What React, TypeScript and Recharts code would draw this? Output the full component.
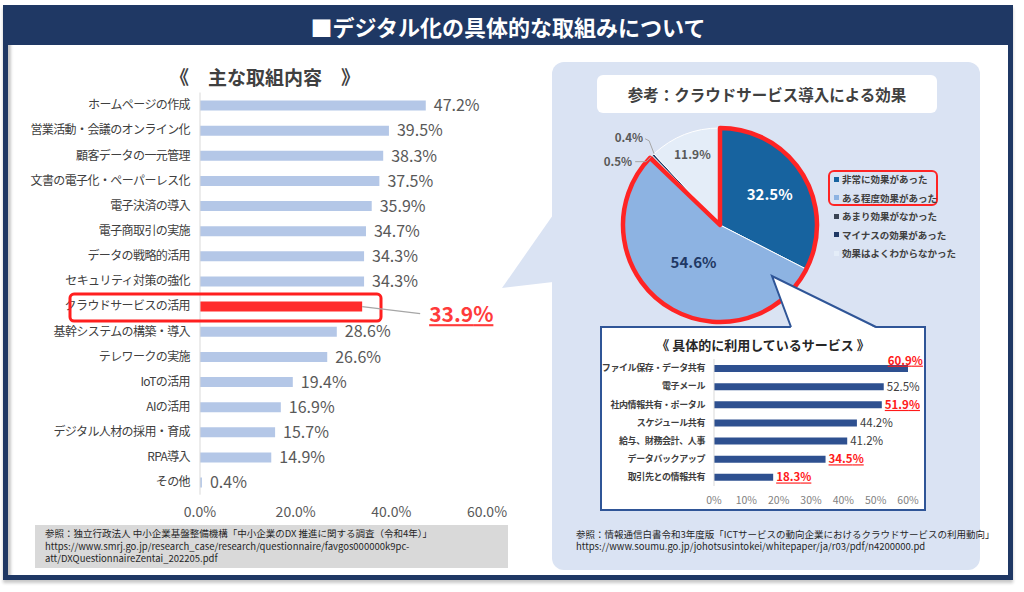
import React from "react";
import { BarChart, Bar, XAxis, YAxis, Cell, LabelList, PieChart, Pie } from "recharts";

const JP = '"Noto Sans CJK JP", "Noto Sans", sans-serif';
const NAVY = "#1f3864";

// 主な取組内容
const categories = [
  "ホームページの作成",
  "営業活動・会議のオンライン化",
  "顧客データの一元管理",
  "文書の電子化・ペーパーレス化",
  "電子決済の導入",
  "電子商取引の実施",
  "データの戦略的活用",
  "セキュリティ対策の強化",
  "クラウドサービスの活用",
  "基幹システムの構築・導入",
  "テレワークの実施",
  "IoTの活用",
  "AIの活用",
  "デジタル人材の採用・育成",
  "RPA導入",
  "その他",
];
const rates = [47.2, 39.5, 38.3, 37.5, 35.9, 34.7, 34.3, 34.3, 33.9, 28.6, 26.6, 19.4, 16.9, 15.7, 14.9, 0.4];
const highlightCategory = "クラウドサービスの活用";
const rateTicks = [0, 20, 40, 60];

// クラウドサービス導入による効果
const effectLabels = [
  "非常に効果があった",
  "ある程度効果があった",
  "あまり効果がなかった",
  "マイナスの効果があった",
  "効果はよくわからなかった",
];
const effectValues = [32.5, 54.6, 0.5, 0.4, 11.9];
const effectColors = ["#17639f", "#8db3e2", "#3a4454", "#1f3864", "#e4edf8"];
const effectHighlight = [true, true, false, false, false];

// 具体的に利用しているサービス
const services = [
  "ファイル保存・データ共有",
  "電子メール",
  "社内情報共有・ポータル",
  "スケジュール共有",
  "給与、財務会計、人事",
  "データバックアップ",
  "取引先との情報共有",
];
const serviceRates = [60.9, 52.5, 51.9, 44.2, 41.2, 34.5, 18.3];
const serviceHighlight = [true, false, true, false, false, true, true];
const serviceTicks = [0, 10, 20, 30, 40, 50, 60];

const mainData = categories.map((name, i) => ({ name, value: rates[i] }));
const effectData = effectLabels.map((name, i) => ({ name, value: effectValues[i] }));
const highlightSum = effectValues.reduce((s, v, i) => (effectHighlight[i] ? s + v : s), 0);
const otherSum = effectValues.reduce((s, v, i) => (effectHighlight[i] ? s : s + v), 0);
const outlineData = [
  { name: "highlight", value: highlightSum },
  { name: "rest", value: otherSum },
];
const serviceData = services.map((name, i) => ({ name, value: serviceRates[i] }));

const RAD = Math.PI / 180;

const MainValueLabel = (props: any) => {
  const { x, y, width, height, index, value } = props;
  const cy = y + height / 2;
  const x0 = x + width;
  if (categories[index] === highlightCategory) {
    return (
      <g>
        <rect x={70} y={cy - 12.5} width={311} height={27} rx={4} fill="none" stroke="#ff1f1f" strokeWidth={3} />
        <line x1={x0} y1={cy} x2={x0 + 58} y2={cy + 7} stroke="#a6a6a6" strokeWidth={1.2} />
        <text
          x={x0 + 67}
          y={cy + 8}
          dy="0.36em"
          fill="#ff3b3b"
          fontSize={21}
          fontWeight={700}
          fontFamily={JP}
          textDecoration="underline"
        >
          {value.toFixed(1)}%
        </text>
      </g>
    );
  }
  return (
    <text x={x0 + 8} y={cy} dy="0.36em" fill="#595959" fontSize={16} fontFamily={JP}>
      {value.toFixed(1)}%
    </text>
  );
};

const ServiceValueLabel = (props: any) => {
  const { x, y, width, height, index, value } = props;
  const cy = y + height / 2;
  const hl = serviceHighlight[index];
  const over = value > serviceTicks[serviceTicks.length - 1];
  return (
    <text
      x={over ? x + width + 12 : x + width + 3}
      y={over ? cy - 8 : cy}
      dy="0.36em"
      textAnchor={over ? "end" : "start"}
      fill={hl ? "#ff1a1a" : "#404040"}
      fontWeight={hl ? 700 : 400}
      textDecoration={hl ? "underline" : undefined}
      fontSize={11.5}
      fontFamily={JP}
    >
      {value.toFixed(1)}%
    </text>
  );
};

const pieLabelRadius = [0.6, 0.47, 1, 1, 0.78];
const pieLabelStyle = [
  { fill: "#ffffff", size: 15 },
  { fill: "#1f3864", size: 15 },
  { fill: "#595959", size: 11.5 },
  { fill: "#595959", size: 11.5 },
  { fill: "#595959", size: 12 },
];

const renderPieLabel = (props: any) => {
  const { cx, cy, midAngle, outerRadius, index, value } = props;
  const cos = Math.cos(-midAngle * RAD);
  const sin = Math.sin(-midAngle * RAD);
  const st = pieLabelStyle[index];
  if (index === 2 || index === 3) {
    const ex = cx + outerRadius * cos;
    const ey = cy + outerRadius * sin;
    const pts =
      index === 2
        ? `${ex},${ey} ${ex - 5},${ey + 5} ${ex - 16},${ey + 5}`
        : `${ex + 1},${ey - 1} ${ex - 4},${ey - 14} ${ex - 8},${ey - 16}`;
    const tx = index === 2 ? ex - 19 : ex - 10;
    const ty = index === 2 ? ey + 5 : ey - 17;
    return (
      <g>
        <polyline points={pts} fill="none" stroke="#a6a6a6" strokeWidth={1} />
        <text x={tx} y={ty} dy="0.36em" textAnchor="end" fill={st.fill} fontSize={st.size} fontWeight={700} fontFamily={JP}>
          {value.toFixed(1)}%
        </text>
      </g>
    );
  }
  const r = outerRadius * pieLabelRadius[index];
  return (
    <text
      x={cx + r * cos}
      y={cy + r * sin}
      dy="0.36em"
      textAnchor="middle"
      fill={st.fill}
      fontSize={st.size}
      fontWeight={700}
      fontFamily={JP}
    >
      {value.toFixed(1)}%
    </text>
  );
};

const abs = (l: number, t: number, extra: React.CSSProperties = {}): React.CSSProperties => ({
  position: "absolute",
  left: l,
  top: t,
  ...extra,
});

export default function App() {
  return (
    <div style={{ position: "absolute", left: 0, top: 0, width: 1024, height: 592, background: "#fff", fontFamily: JP, overflow: "hidden" }}>
      {/* frame */}
      <div
        style={abs(3, 5, {
          width: 1010,
          height: 575,
          boxSizing: "border-box",
          border: `5px solid ${NAVY}`,
          borderTop: "none",
          boxShadow: "inset 3px 3px 3px #c8c8c8, 0 3px 3px #c8c8c8",
          background: "#fff",
        })}
      />
      <div
        style={abs(3, 5, {
          width: 1010,
          height: 40,
          background: NAVY,
          color: "#fff",
          fontSize: 22,
          fontWeight: 700,
          lineHeight: "42px",
          textAlign: "center",
        })}
      >
        ■デジタル化の具体的な取組みについて
      </div>

      {/* left chart */}
      <div style={abs(20, 62, { width: 490, textAlign: "center", fontSize: 19, fontWeight: 700, color: "#404040", lineHeight: "30px" })}>
        《　主な取組内容　》
      </div>
      <div style={abs(0, 0)}>
        <BarChart
          width={540}
          height={530}
          layout="vertical"
          data={mainData}
          margin={{ top: 92.5, right: 53, bottom: 5.3, left: 0 }}
        >
          <XAxis
            type="number"
            domain={[0, 60]}
            ticks={rateTicks}
            tickFormatter={(v: number) => `${v.toFixed(1)}%`}
            axisLine={false}
            tickLine={false}
            tickMargin={6}
            height={30}
            tick={{ fontSize: 14, fill: "#595959", fontFamily: JP }}
          />
          <YAxis
            type="category"
            dataKey="name"
            width={200}
            interval={0}
            tickLine={false}
            tickMargin={4}
            axisLine={{ stroke: "#d9d9d9" }}
            tick={{ fontSize: 12, fill: "#404040", fontFamily: JP, letterSpacing: -0.6 }}
          />
          <Bar dataKey="value" barSize={10} isAnimationActive={false}>
            {mainData.map((d) => (
              <Cell key={d.name} fill={d.name === highlightCategory ? "#ff2b2b" : "#b4c7e7"} />
            ))}
            <LabelList dataKey="value" content={MainValueLabel} />
          </Bar>
        </BarChart>
      </div>
      <div
        style={abs(35, 525, {
          width: 473,
          height: 43,
          background: "#d9d9d9",
          boxSizing: "border-box",
          padding: "2px 0 0 10px",
          fontSize: 9.5,
          lineHeight: "12.5px",
          color: "#262626",
          whiteSpace: "nowrap",
        })}
      >
        参照：独立行政法人 中小企業基盤整備機構「中小企業のDX 推進に関する調査（令和4年）」
        <br />
        https://www.smrj.go.jp/research_case/research/questionnaire/favgos000000k9pc-
        <br />
        att/DXQuestionnaireZentai_202205.pdf
      </div>

      {/* right panel */}
      <div style={abs(552, 62, { width: 428, height: 508, background: "#dae3f3", borderRadius: 12 })} />
      <svg width={1024} height={592} style={abs(0, 0)}>
        <polygon points="553,215 502,288 553,282" fill="#dae3f3" />
      </svg>
      <div
        style={abs(597, 75, {
          width: 340,
          height: 38,
          background: "#fff",
          borderRadius: 6,
          textAlign: "center",
          lineHeight: "38px",
          fontSize: 15.5,
          fontWeight: 700,
          color: "#404040",
        })}
      >
        参考：クラウドサービス導入による効果
      </div>
      <div style={abs(552, 62)}>
        <PieChart width={428} height={300}>
          <Pie
            data={effectData}
            dataKey="value"
            cx={163}
            cy={158}
            outerRadius={97}
            startAngle={90}
            endAngle={-270}
            stroke="#ffffff"
            strokeWidth={1}
            label={renderPieLabel}
            labelLine={false}
            isAnimationActive={false}
          >
            {effectData.map((d, i) => (
              <Cell key={d.name} fill={effectColors[i]} />
            ))}
          </Pie>
          <Pie
            data={outlineData}
            dataKey="value"
            cx={163}
            cy={158}
            outerRadius={97}
            startAngle={90}
            endAngle={-270}
            isAnimationActive={false}
          >
            <Cell fill="none" stroke="#ff2424" strokeWidth={4.5} strokeLinejoin="round" />
            <Cell fill="none" stroke="none" />
          </Pie>
        </PieChart>
      </div>
      {/* legend */}
      <div style={abs(828, 170, { width: 110, height: 36, border: "2px solid #ff2424", borderRadius: 6, boxSizing: "border-box" })} />
      <div style={abs(834, 170)}>
        {effectLabels.map((name, i) => (
          <div key={name} style={{ height: 18.5, display: "flex", alignItems: "center", fontSize: 9.5, fontWeight: 700, color: "#404040", whiteSpace: "nowrap" }}>
            <span style={{ display: "inline-block", width: 5, height: 5, background: effectColors[i], marginRight: 3 }} />
            {name}
          </div>
        ))}
      </div>

      {/* callout */}
      <div style={abs(600, 326, { width: 326, height: 185, background: "#fff", border: "2px solid #2f5597", boxSizing: "border-box" })} />
      <svg width={1024} height={592} style={abs(0, 0)}>
        <polygon points="772,276 791,328 876,328" fill="#fff" />
        <polyline points="791,327 772,276 876,327" fill="none" stroke="#2f5597" strokeWidth={2} />
      </svg>
      <div style={abs(600, 335, { width: 326, textAlign: "center", fontSize: 13, fontWeight: 700, color: "#262626", lineHeight: "20px" })}>
        《 具体的に利用しているサービス 》
      </div>
      <div style={abs(600, 350)}>
        <BarChart
          width={330}
          height={165}
          layout="vertical"
          data={serviceData}
          margin={{ top: 9, right: 22, bottom: 9, left: 0 }}
        >
          <XAxis
            type="number"
            domain={[0, 60]}
            allowDataOverflow
            ticks={serviceTicks}
            tickFormatter={(v: number) => `${v}%`}
            axisLine={false}
            tickLine={false}
            tickMargin={5}
            height={20}
            tick={{ fontSize: 10.5, fill: "#7f7f7f", fontFamily: JP }}
          />
          <YAxis
            type="category"
            dataKey="name"
            width={114}
            interval={0}
            tickLine={false}
            tickMargin={3}
            axisLine={{ stroke: "#d9d9d9" }}
            tick={{ fontSize: 9, fill: "#404040", fontFamily: JP, fontWeight: 700, letterSpacing: -0.4 }}
          />
          <Bar dataKey="value" barSize={7} fill="#2e5090" isAnimationActive={false}>
            <LabelList dataKey="value" content={ServiceValueLabel} />
          </Bar>
        </BarChart>
      </div>
      <div style={abs(576, 528, { fontSize: 9.5, lineHeight: "12px", color: "#262626", whiteSpace: "nowrap" })}>
        参照：情報通信白書令和3年度版「ICTサービスの動向企業におけるクラウドサービスの利用動向」
        <br />
        https://www.soumu.go.jp/johotsusintokei/whitepaper/ja/r03/pdf/n4200000.pd
      </div>
    </div>
  );
}
